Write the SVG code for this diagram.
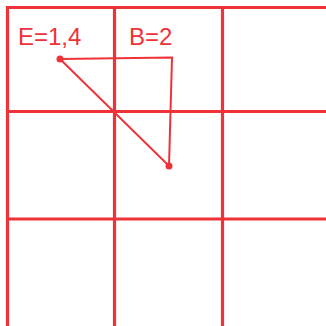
<svg xmlns="http://www.w3.org/2000/svg" width="326" height="326" viewBox="0 0 326 326">
<style>
.g{stroke:#ee3238;stroke-width:3.2;fill:none}
.c{stroke:#ee3238;stroke-width:2;fill:none}
.t{font-family:"Liberation Sans",Arial,sans-serif;font-size:24px;fill:#ee3238}
.d{fill:#ee3238}
</style>
<rect width="326" height="326" fill="#fff"/>
<g id="grid">
<line class="g" x1="6" y1="7.5" x2="326" y2="7.5"/>
<line class="g" x1="6" y1="111.5" x2="326" y2="111.5"/>
<line class="g" x1="6" y1="219" x2="326" y2="219"/>
<line class="g" x1="7.5" y1="6" x2="7.5" y2="326"/>
<line class="g" x1="114.5" y1="6" x2="114.5" y2="326"/>
<line class="g" x1="222.5" y1="6" x2="222.5" y2="326"/>
</g>
<g id="connectors">
<polyline class="c" points="60,59 172,57.5 169,166 60,59"/>
</g>
<g id="E"><circle class="d" cx="60" cy="59" r="3.5"/><text class="t" x="18" y="45">E=1,4</text></g>
<g id="B"><circle class="d" cx="169" cy="166" r="3.5"/><text class="t" x="129" y="45">B=2</text></g>
</svg>
